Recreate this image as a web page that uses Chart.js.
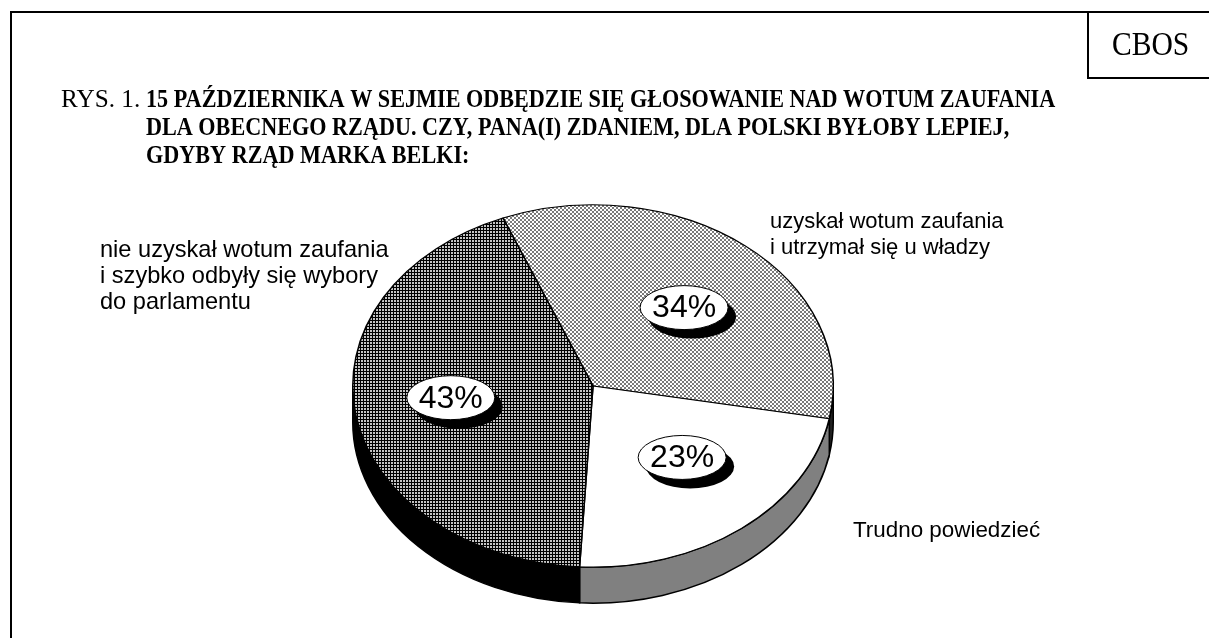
<!DOCTYPE html>
<html>
<head>
<meta charset="utf-8">
<script src="https://cdn.jsdelivr.net/npm/chart.js@4.4.1/dist/chart.umd.min.js"></script>
<style>
  html, body { margin: 0; padding: 0; background: #fff; }
  #wrap { position: relative; width: 1209px; height: 638px; }
</style>
</head>
<body>
<div id="wrap"><canvas id="pie" width="1209" height="638"></canvas></div>
<script>
// dane
const categories = [
    ['uzyskał wotum zaufania', 'i utrzymał się u władzy'],
    ['Trudno powiedzieć'],
    ['nie uzyskał wotum zaufania', 'i szybko odbyły się wybory', 'do parlamentu']
];
const values = [34, 23, 43];
const valueLabels = ['34%', '23%', '43%'];
const titlePrefix = 'RYS. 1.';
const titleLines = [
    '15 PAŹDZIERNIKA W SEJMIE ODBĘDZIE SIĘ GŁOSOWANIE NAD WOTUM ZAUFANIA',
    'DLA OBECNEGO RZĄDU. CZY, PANA(I) ZDANIEM, DLA POLSKI BYŁOBY LEPIEJ,',
    'GDYBY RZĄD MARKA BELKI:'
];
const sourceLabel = 'CBOS';

// wygląd "3D"
const tilt = 0.754;
const depth = 36;
const sideColors = ['#222222', '#808080', '#000000'];

function makePattern(size, draw) {
    const c = document.createElement('canvas');
    c.width = size; c.height = size;
    const g = c.getContext('2d');
    g.fillStyle = '#fff';
    g.fillRect(0, 0, size, size);
    draw(g);
    const p = g.createPattern(c, 'repeat');
    // odwrócenie spłaszczenia, żeby wzór nie był rozmyty
    if (p.setTransform) p.setTransform(new DOMMatrix().scale(1, 1 / tilt));
    return p;
}

const ctxMain = document.getElementById('pie').getContext('2d');
const checker = makePattern(4, g => {
    g.fillStyle = '#7a7a7a';
    g.fillRect(0, 0, 2, 2);
    g.fillRect(2, 2, 2, 2);
});
const grid = makePattern(3, g => {
    g.fillStyle = '#000';
    g.fillRect(0, 0, 3, 3);
    g.fillStyle = '#c4c4c4';
    g.fillRect(1, 1, 2, 2);
});
const fills = [checker, '#ffffff', grid];

// tekst ściśnięty poziomo (jak w oryginale)
function fitText(ctx, text, x, y, font, sx) {
    ctx.save();
    ctx.font = font;
    ctx.translate(x, y);
    ctx.scale(sx, 1);
    ctx.fillText(text, 0, 0);
    ctx.restore();
}

const pie3d = {
    id: 'pie3d',
    beforeDatasetsDraw(chart) {
        const ctx = chart.ctx;
        const arcs = chart.getDatasetMeta(0).data;
        arcs.forEach((arc, i) => {
            const { x, y, startAngle, endAngle, outerRadius } =
                arc.getProps(['x', 'y', 'startAngle', 'endAngle', 'outerRadius'], true);
            const ry = outerRadius * tilt;
            [[-2 * Math.PI, -Math.PI], [0, Math.PI], [2 * Math.PI, 3 * Math.PI]].forEach(([lo, hi]) => {
                const a = Math.max(startAngle, lo), b = Math.min(endAngle, hi);
                if (b <= a) return;
                ctx.beginPath();
                ctx.ellipse(x, y, outerRadius, ry, 0, a, b);
                ctx.ellipse(x, y + depth, outerRadius, ry, 0, b, a, true);
                ctx.closePath();
                ctx.fillStyle = sideColors[i];
                ctx.fill();
                ctx.lineWidth = 1.5;
                ctx.strokeStyle = '#000';
                ctx.stroke();
            });
        });
        const c = arcs[0];
        ctx.save();
        ctx.translate(c.x, c.y);
        ctx.scale(1, tilt);
        ctx.translate(-c.x, -c.y);
    },
    afterDatasetsDraw(chart) {
        const ctx = chart.ctx;
        ctx.restore();
        const arcs = chart.getDatasetMeta(0).data;
        arcs.forEach((arc, i) => {
            const { x, y, startAngle, endAngle, outerRadius } =
                arc.getProps(['x', 'y', 'startAngle', 'endAngle', 'outerRadius'], true);
            const m = (startAngle + endAngle) / 2;
            const px = x + 0.6 * outerRadius * Math.cos(m);
            const py = y + 0.53 * outerRadius * tilt * Math.sin(m) - 4;
            // cień
            ctx.beginPath();
            ctx.ellipse(px + 8, py + 9, 44, 22, 0, 0, Math.PI * 2);
            ctx.fillStyle = '#000';
            ctx.fill();
            ctx.beginPath();
            ctx.ellipse(px, py, 44, 22, 0, 0, Math.PI * 2);
            ctx.fillStyle = '#fff';
            ctx.fill();
            ctx.lineWidth = 1;
            ctx.strokeStyle = '#000';
            ctx.stroke();
            ctx.fillStyle = '#000';
            ctx.font = '32px "Liberation Sans", Arial, sans-serif';
            ctx.textAlign = 'center';
            ctx.textBaseline = 'middle';
            ctx.fillText(valueLabels[i], px, py + 1);
        });
    },
    afterDraw(chart) {
        const ctx = chart.ctx;
        ctx.save();
        // ramka
        ctx.strokeStyle = '#000';
        ctx.lineWidth = 2;
        ctx.beginPath();
        ctx.moveTo(11, 638);
        ctx.lineTo(11, 12);
        ctx.lineTo(1209, 12);
        ctx.moveTo(1088, 12);
        ctx.lineTo(1088, 78);
        ctx.lineTo(1209, 78);
        ctx.stroke();

        ctx.fillStyle = '#000';
        ctx.textAlign = 'left';
        ctx.textBaseline = 'alphabetic';
        fitText(ctx, sourceLabel, 1112, 55, '34px "Liberation Serif", "Times New Roman", serif', 0.87);

        fitText(ctx, titlePrefix, 61, 107, '26px "Liberation Serif", "Times New Roman", serif', 0.97);
        titleLines.forEach((t, i) => {
            fitText(ctx, t, 146, 107 + i * 28, 'bold 26px "Liberation Serif", "Times New Roman", serif', 0.853);
        });

        // etykiety kategorii
        const spots = [[770, 228, 22], [853, 537, 22.4], [100, 257, 23.6]];
        categories.forEach((lines, i) => {
            ctx.font = spots[i][2] + 'px "Liberation Sans", Arial, sans-serif';
            lines.forEach((l, j) => ctx.fillText(l, spots[i][0], spots[i][1] + j * 26));
        });
        ctx.restore();
    }
};

new Chart(ctxMain, {
    type: 'pie',
    data: {
        labels: categories.map(c => c.join(' ')),
        datasets: [{
            data: values,
            backgroundColor: fills,
            borderColor: '#000',
            borderWidth: 1.5,
            clip: false
        }]
    },
    options: {
        responsive: false,
        animation: false,
        rotation: -22,
        layout: { padding: { left: 352, right: 375, top: 145, bottom: 11 } },
        plugins: {
            legend: { display: false },
            tooltip: { enabled: false }
        }
    },
    plugins: [pie3d]
});
</script>
</body>
</html>
